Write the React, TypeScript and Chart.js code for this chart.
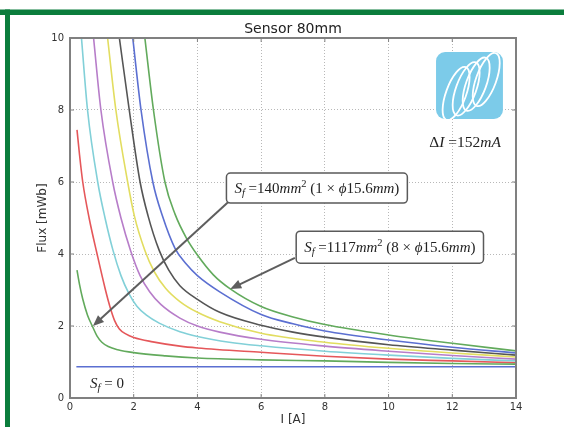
import React, { useEffect, useRef } from 'react';
import { Chart, registerables } from 'chart.js';

Chart.register(...registerables);

const TITLE = 'Sensor 80mm';
const X_LABEL = 'I [A]';
const Y_LABEL = 'Flux [mWb]';
const X_TICKS = [0, 2, 4, 6, 8, 10, 12, 14];
const Y_TICKS = [0, 2, 4, 6, 8, 10];

// Current I [A] and flux [mWb], one pair of arrays per curve
const I_SF0 = [0.2, 14];
const F_SF0 = [0.87, 0.87];
const I_G1 = [0.22, 0.3, 0.4, 0.55, 0.71, 0.85, 1.0, 1.2, 1.5, 2, 3, 4, 6, 8, 10, 12, 14];
const F_G1 = [3.55, 3.15, 2.75, 2.3, 1.98, 1.72, 1.55, 1.43, 1.34, 1.26, 1.17, 1.11, 1.06, 1.03, 0.99, 0.96, 0.94];
const I_R = [0.22, 0.3, 0.4, 0.6, 0.85, 1.1, 1.25, 1.4, 1.55, 1.75, 2, 2.6, 3.45, 4, 6, 8, 10, 12, 14];
const F_R = [7.45, 6.75, 6.0, 5.0, 4.0, 3.05, 2.55, 2.15, 1.92, 1.78, 1.68, 1.56, 1.44, 1.39, 1.27, 1.16, 1.08, 1.03, 0.98];
const I_C = [0.36, 0.55, 0.87, 1.1, 1.35, 1.6, 1.85, 2.1, 2.4, 2.8, 3.45, 4, 5, 6, 8, 10, 12, 14];
const F_C = [10, 8, 6, 5.0, 4.1, 3.4, 2.9, 2.55, 2.3, 2.08, 1.84, 1.71, 1.55, 1.45, 1.3, 1.19, 1.1, 1.03];
const I_M = [0.74, 0.97, 1.34, 1.6, 1.9, 2.2, 2.5, 2.85, 3.45, 4, 4.7, 6, 8, 10, 12, 14];
const F_M = [10, 8, 6, 5.0, 4.1, 3.4, 2.95, 2.6, 2.22, 2.0, 1.83, 1.63, 1.44, 1.3, 1.18, 1.08];
const I_Y = [1.18, 1.44, 1.81, 2.02, 2.35, 2.65, 3.0, 3.45, 4, 4.7, 6, 8, 10, 12, 14];
const F_Y = [10, 8, 6, 5.06, 4.1, 3.5, 3.05, 2.68, 2.38, 2.12, 1.8, 1.55, 1.38, 1.25, 1.14];
const I_K = [1.55, 1.86, 2.2, 2.45, 2.8, 3.1, 3.45, 4, 4.7, 6, 7, 8, 10, 12, 14];
const F_K = [10, 8, 6, 5.06, 4.1, 3.55, 3.12, 2.74, 2.38, 2.02, 1.83, 1.69, 1.48, 1.33, 1.19];
const I_B = [1.97, 2.23, 2.6, 2.9, 3.3, 3.65, 4, 4.7, 6, 7, 8, 10, 12, 14];
const F_B = [10, 8, 6, 5.06, 4.15, 3.72, 3.4, 2.95, 2.32, 2.06, 1.86, 1.61, 1.41, 1.25];
const I_G2 = [2.35, 2.62, 2.98, 3.3, 3.65, 4, 4.5, 5.03, 6, 7, 8, 10, 12, 14];
const F_G2 = [10, 8, 6, 5.1, 4.45, 3.97, 3.42, 3.03, 2.54, 2.25, 2.04, 1.75, 1.52, 1.31];

const CURVES: { i: number[]; f: number[]; color: string }[] = [
  { i: I_SF0, f: F_SF0, color: '#5b6fd1' },
  { i: I_G1, f: F_G1, color: '#62aa5c' },
  { i: I_R, f: F_R, color: '#e5575a' },
  { i: I_C, f: F_C, color: '#82d0d8' },
  { i: I_M, f: F_M, color: '#b77dc9' },
  { i: I_Y, f: F_Y, color: '#e2dd60' },
  { i: I_K, f: F_K, color: '#555555' },
  { i: I_B, f: F_B, color: '#5b6fd1' },
  { i: I_G2, f: F_G2, color: '#62aa5c' },
];

// Annotation anchors in data units (I, F)
const BOX1_AT = [7.75, 5.83];
const BOX2_AT = [10.04, 4.19];
const ARROW1 = [4.96, 5.44, 0.72, 2.0];
const ARROW2 = [7.06, 3.89, 5.03, 3.03];
const SF0_AT = [1.16, 0.42];
const DI_AT = [12.4, 7.11];
const LOGO = [11.49, 9.61, 13.59, 7.75];

type Seg = { t: string; it?: boolean; sc?: number; dy?: number };

const BOX1_TEXT: Seg[] = [
  { t: 'S', it: true }, { t: 'f', it: true, sc: 0.7, dy: 0.22 }, { t: ' =' }, { t: '140' },
  { t: 'mm', it: true }, { t: '2', sc: 0.7, dy: -0.38 }, { t: ' (1 \u00d7 ' }, { t: '\u03d5', it: true },
  { t: '15.6' }, { t: 'mm', it: true }, { t: ')' },
];
const BOX2_TEXT: Seg[] = [
  { t: 'S', it: true }, { t: 'f', it: true, sc: 0.7, dy: 0.22 }, { t: ' =' }, { t: '1117' },
  { t: 'mm', it: true }, { t: '2', sc: 0.7, dy: -0.38 }, { t: ' (8 \u00d7 ' }, { t: '\u03d5', it: true },
  { t: '15.6' }, { t: 'mm', it: true }, { t: ')' },
];
const SF0_TEXT: Seg[] = [
  { t: 'S', it: true }, { t: 'f', it: true, sc: 0.7, dy: 0.22 }, { t: ' = ' }, { t: '0' },
];
const DI_TEXT: Seg[] = [
  { t: '\u0394' }, { t: 'I', it: true }, { t: ' =' }, { t: '152' }, { t: 'mA', it: true },
];

const GREEN = '#0b7d3c';
const AXIS = '#808080';
const TEXT = '#333333';
const SERIF = '"Liberation Serif", "DejaVu Serif", serif';
const SANS = '"DejaVu Sans", sans-serif';

function segFont(s: Seg, size: number) {
  return `${s.it ? 'italic ' : ''}${(size * (s.sc ?? 1)).toFixed(2)}px ${SERIF}`;
}
function measureRich(ctx: CanvasRenderingContext2D, segs: Seg[], size: number) {
  let w = 0;
  for (const s of segs) {
    ctx.font = segFont(s, size);
    w += ctx.measureText(s.t).width;
  }
  return w;
}
function drawRich(ctx: CanvasRenderingContext2D, segs: Seg[], size: number, cx: number, cy: number) {
  const w = measureRich(ctx, segs, size);
  let x = cx - w / 2;
  const base = cy + size * 0.33;
  ctx.fillStyle = '#222';
  ctx.textAlign = 'left';
  ctx.textBaseline = 'alphabetic';
  for (const s of segs) {
    ctx.font = segFont(s, size);
    ctx.fillText(s.t, x, base + (s.dy ?? 0) * size);
    x += ctx.measureText(s.t).width;
  }
  return w;
}
function roundRectPath(ctx: CanvasRenderingContext2D, x: number, y: number, w: number, h: number, r: number) {
  ctx.beginPath();
  ctx.moveTo(x + r, y);
  ctx.arcTo(x + w, y, x + w, y + h, r);
  ctx.arcTo(x + w, y + h, x, y + h, r);
  ctx.arcTo(x, y + h, x, y, r);
  ctx.arcTo(x, y, x + w, y, r);
  ctx.closePath();
}
function drawArrow(ctx: CanvasRenderingContext2D, x0: number, y0: number, x1: number, y1: number) {
  const ang = Math.atan2(y1 - y0, x1 - x0);
  const hl = 11, hw = 4.5;
  ctx.strokeStyle = '#5e5e5e';
  ctx.fillStyle = '#5e5e5e';
  ctx.lineWidth = 2;
  ctx.beginPath();
  ctx.moveTo(x0, y0);
  ctx.lineTo(x1 - Math.cos(ang) * hl * 0.8, y1 - Math.sin(ang) * hl * 0.8);
  ctx.stroke();
  ctx.beginPath();
  ctx.moveTo(x1, y1);
  ctx.lineTo(x1 - Math.cos(ang) * hl - Math.sin(ang) * hw, y1 - Math.sin(ang) * hl + Math.cos(ang) * hw);
  ctx.lineTo(x1 - Math.cos(ang) * hl + Math.sin(ang) * hw, y1 - Math.sin(ang) * hl - Math.cos(ang) * hw);
  ctx.closePath();
  ctx.fill();
}
function drawBox(ctx: CanvasRenderingContext2D, segs: Seg[], size: number, cx: number, cy: number, h: number) {
  const w = measureRich(ctx, segs, size) + 16;
  roundRectPath(ctx, cx - w / 2, cy - h / 2, w, h, 4);
  ctx.fillStyle = '#ffffff';
  ctx.fill();
  ctx.strokeStyle = '#5a5a5a';
  ctx.lineWidth = 1.5;
  ctx.stroke();
  drawRich(ctx, segs, size, cx, cy);
}
function drawLogo(ctx: CanvasRenderingContext2D, x0: number, y0: number, x1: number, y1: number) {
  const w = x1 - x0, h = y1 - y0;
  ctx.save();
  roundRectPath(ctx, x0, y0, w, h, 9);
  ctx.fillStyle = '#7ccbe9';
  ctx.fill();
  ctx.clip();
  ctx.strokeStyle = '#ffffff';
  ctx.lineWidth = 1.8;
  for (let k = 0; k < 4; k++) {
    const cx = x0 + w * (0.3 + 0.15 * k);
    const cy = y0 + h * (0.62 - 0.07 * k);
    ctx.beginPath();
    ctx.ellipse(cx, cy, h * 0.42, w * 0.15, -1.22, 0, Math.PI * 2);
    ctx.stroke();
  }
  ctx.restore();
}

const decoPlugin = {
  id: 'deco',
  beforeDraw(chart: any) {
    const { ctx, width, height } = chart;
    ctx.save();
    ctx.fillStyle = '#ffffff';
    ctx.fillRect(0, 0, width, height);
    ctx.fillStyle = GREEN;
    ctx.fillRect(0, 9.5, width, 5.5);
    ctx.fillRect(5, 9.5, 5, height);
    ctx.restore();
  },
  afterDatasetsDraw(chart: any) {
    const { ctx, chartArea: a, scales } = chart;
    const sx = (v: number) => scales.x.getPixelForValue(v);
    const sy = (v: number) => scales.y.getPixelForValue(v);
    ctx.save();
    ctx.strokeStyle = AXIS;
    ctx.lineWidth = 2;
    ctx.strokeRect(a.left, a.top, a.right - a.left, a.bottom - a.top);
    ctx.lineWidth = 1;
    ctx.beginPath();
    for (const v of X_TICKS) {
      const x = sx(v);
      ctx.moveTo(x, a.bottom); ctx.lineTo(x, a.bottom - 4);
      ctx.moveTo(x, a.top); ctx.lineTo(x, a.top + 4);
    }
    for (const v of Y_TICKS) {
      const y = sy(v);
      ctx.moveTo(a.left, y); ctx.lineTo(a.left + 4, y);
      ctx.moveTo(a.right, y); ctx.lineTo(a.right - 4, y);
    }
    ctx.stroke();
    drawLogo(ctx, sx(LOGO[0]), sy(LOGO[1]), sx(LOGO[2]), sy(LOGO[3]));
    drawArrow(ctx, sx(ARROW1[0]), sy(ARROW1[1]), sx(ARROW1[2]), sy(ARROW1[3]));
    drawArrow(ctx, sx(ARROW2[0]), sy(ARROW2[1]), sx(ARROW2[2]), sy(ARROW2[3]));
    drawBox(ctx, BOX1_TEXT, 15, sx(BOX1_AT[0]), sy(BOX1_AT[1]), 30);
    drawBox(ctx, BOX2_TEXT, 15, sx(BOX2_AT[0]), sy(BOX2_AT[1]), 32);
    drawRich(ctx, SF0_TEXT, 15, sx(SF0_AT[0]), sy(SF0_AT[1]));
    drawRich(ctx, DI_TEXT, 15.5, sx(DI_AT[0]), sy(DI_AT[1]));
    ctx.restore();
  },
};

export default function App() {
  const ref = useRef<HTMLCanvasElement | null>(null);
  useEffect(() => {
    if (!ref.current) return;
    const tickFont = { family: SANS, size: 10 };
    const labelFont = { family: SANS, size: 12, lineHeight: 1.2 };
    const chart = new Chart(ref.current, {
      type: 'line',
      data: {
        datasets: CURVES.map((c) => ({
          data: c.i.map((x, k) => ({ x, y: c.f[k] })),
          borderColor: c.color,
          borderWidth: 1.6,
          pointRadius: 0,
          fill: false,
          cubicInterpolationMode: 'monotone' as const,
        })),
      },
      options: {
        animation: false,
        responsive: false,
        events: [],
        layout: { padding: { left: 0, right: 48, top: 0, bottom: 0 } },
        plugins: {
          legend: { display: false },
          tooltip: { enabled: false },
          title: {
            display: true,
            text: TITLE,
            fullSize: false,
            color: '#222',
            font: { family: SANS, size: 14, weight: 'normal', lineHeight: 1.2 },
            padding: { top: 20.6, bottom: 0.6 },
          },
        },
        scales: {
          x: {
            type: 'linear',
            min: 0,
            max: 14,
            afterBuildTicks: (s: any) => { s.ticks = X_TICKS.map((v) => ({ value: v })); },
            afterFit: (s: any) => { s.height = 29; },
            grid: { color: 'rgba(0,0,0,0.28)', lineWidth: 1, drawTicks: false },
            border: { display: false, dash: [1, 2] },
            ticks: { font: tickFont, color: TEXT, padding: 3, maxRotation: 0, autoSkip: false },
            title: { display: true, text: X_LABEL, font: labelFont, color: TEXT, padding: { top: 0, bottom: 0 } },
          },
          y: {
            type: 'linear',
            min: 0,
            max: 10,
            afterBuildTicks: (s: any) => { s.ticks = Y_TICKS.map((v) => ({ value: v })); },
            afterFit: (s: any) => { s.width = 70; },
            grid: { color: 'rgba(0,0,0,0.28)', lineWidth: 1, drawTicks: false },
            border: { display: false, dash: [1, 2] },
            ticks: { font: tickFont, color: TEXT, padding: 6, autoSkip: false },
            title: { display: true, text: Y_LABEL, font: labelFont, color: TEXT, padding: { top: 36, bottom: 0 } },
          },
        },
      },
      plugins: [decoPlugin],
    } as any);
    return () => chart.destroy();
  }, []);
  return (
    <div style={{ position: 'absolute', left: 0, top: 0, width: 564, height: 427, background: '#fff' }}>
      <canvas ref={ref} width={564} height={427} style={{ width: 564, height: 427, display: 'block' }} />
    </div>
  );
}
